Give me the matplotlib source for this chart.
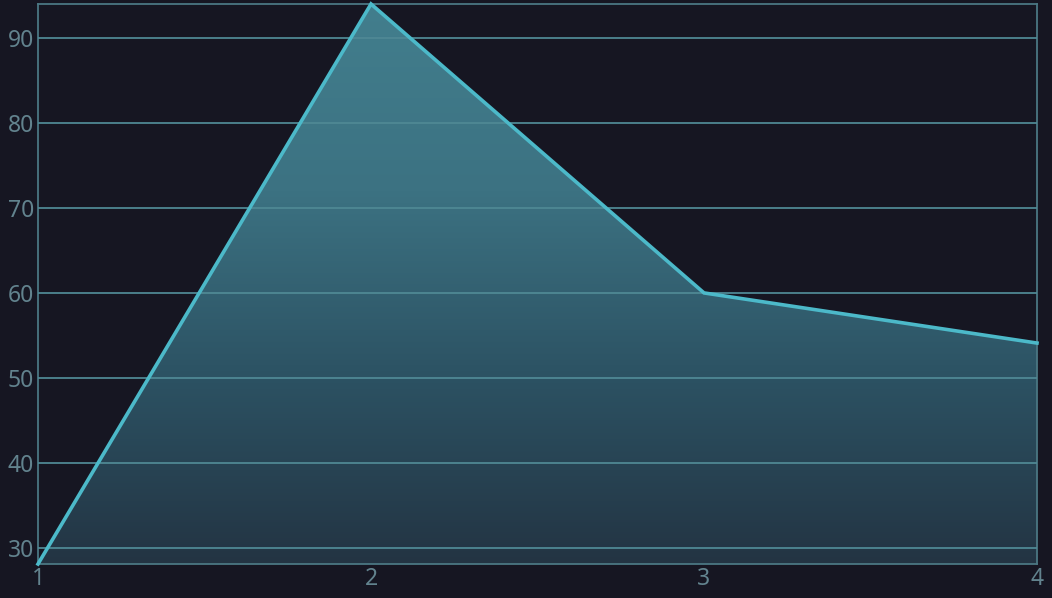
import matplotlib
matplotlib.use("Agg")
import matplotlib.pyplot as plt
import numpy as np
from matplotlib.colors import LinearSegmentedColormap
from matplotlib.patches import Polygon

x_vals = [1, 2, 3, 4]
y_vals = [28.1, 94.0, 60.0, 54.1]
x_ticks = [1, 2, 3, 4]
y_ticks = [30, 40, 50, 60, 70, 80, 90]

bg = "#161622"
line_c = "#4cb9c9"
grid_c = "#4f8894"
label_c = "#62838e"

plt.rcParams['font.family'] = ['Noto Sans', 'DejaVu Sans']

fig = plt.figure(figsize=(10.52, 5.98), dpi=100, facecolor=bg)
ax = fig.add_axes([38/1052, 1 - 564/598, (1037-38)/1052, (564-4)/598])
ax.set_facecolor(bg)

ymin, ymax = min(y_vals), max(y_vals)
ax.set_xlim(x_vals[0], x_vals[-1])
ax.set_ylim(ymin, ymax)

# gradient fill
cmap = LinearSegmentedColormap.from_list("g", ["#233443", "#2c5263", "#3c7282", "#427e8d"])
grad = np.linspace(0, 1, 256).reshape(-1, 1)
im = ax.imshow(grad, extent=[x_vals[0], x_vals[-1], ymin, ymax], origin="lower",
               aspect="auto", cmap=cmap, zorder=1)
verts = [(x_vals[0], ymin)] + list(zip(x_vals, y_vals)) + [(x_vals[-1], ymin)]
poly = Polygon(verts, closed=True, facecolor="none", edgecolor="none")
ax.add_patch(poly)
im.set_clip_path(poly)

ax.plot(x_vals, y_vals, color=line_c, lw=2.6, zorder=3, solid_joinstyle="miter", clip_on=False)

ax.set_xticks(x_ticks)
ax.set_yticks(y_ticks)
ax.grid(True, axis="y", color=grid_c, lw=1.3, zorder=2)
ax.set_axisbelow(False)
ax.grid(False, axis="x")
for s in ax.spines.values():
    s.set_color("#4b7783")
    s.set_linewidth(1.3)
ax.tick_params(length=0, labelcolor=label_c, labelsize=16.5)
ax.tick_params(axis="y", pad=3)
ax.tick_params(axis="x", pad=2)

fig.savefig("out.png", dpi=100, facecolor=bg)
